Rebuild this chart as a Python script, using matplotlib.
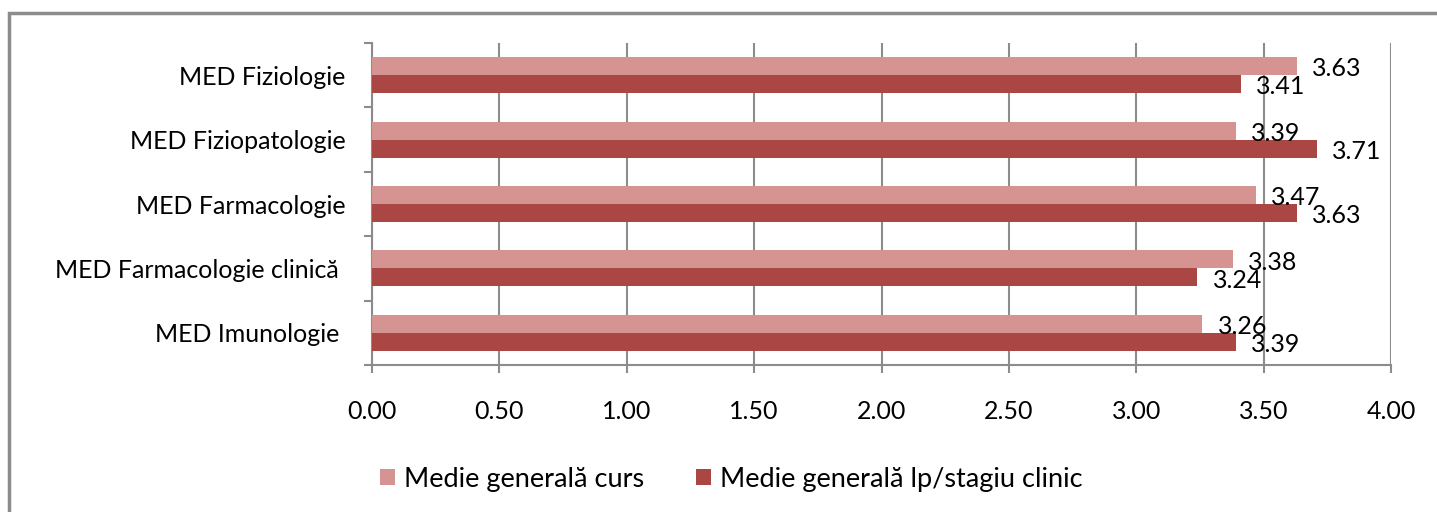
import matplotlib.pyplot as plt
import matplotlib.patches as mpatches
import numpy as np

plt.rcParams['font.family'] = ['Lato', 'DejaVu Sans']

# data
categories = ['MED Fiziologie', 'MED Fiziopatologie', 'MED Farmacologie',
              'MED Farmacologie clinică ', 'MED Imunologie ']
curs = [3.63, 3.39, 3.47, 3.38, 3.26]
lp = [3.41, 3.71, 3.63, 3.24, 3.39]
series_names = ['Medie generală curs', 'Medie generală lp/stagiu clinic']
xticks = [0.0, 0.5, 1.0, 1.5, 2.0, 2.5, 3.0, 3.5, 4.0]

colLight = '#d59392'
colDark = '#aa4643'
gray = '#8c8c8c'
fs = 18

fig = plt.figure(figsize=(14.37, 5.12), dpi=100)
ax = fig.add_axes([372/1437, 1-365/512, (1391-372)/1437, (365-43)/512])

y = np.arange(len(categories))
h = 0.28
b1 = ax.barh(y - h/2, curs, height=h, color=colLight, label=series_names[0], zorder=3)
b2 = ax.barh(y + h/2, lp, height=h, color=colDark, label=series_names[1], zorder=3)

#value labels right of the bar ends
for bars, vals in [(b1, curs), (b2, lp)]:
    for bar, v in zip(bars, vals):
        ax.annotate('%.2f' % v, (v, bar.get_y() + bar.get_height()/2),
                    xytext=(11, -2), textcoords='offset points',
                    ha='left', va='center', fontsize=fs, zorder=4)

ax.set_xlim(0, 4)
ax.set_ylim(len(categories) - 0.5, -0.5)
ax.set_xticks(xticks)
ax.set_xticklabels(['%.2f' % t for t in xticks], fontsize=fs)
ax.set_yticks(y)
ax.set_yticklabels(categories, fontsize=fs)
ax.set_yticks(np.arange(len(categories) + 1) - 0.5, minor=True)

ax.grid(axis='x', color=gray, linewidth=1.5, zorder=0)
ax.tick_params(axis='x', length=6, width=1.5, color=gray, pad=19)
ax.tick_params(axis='y', which='major', length=0, pad=19)
ax.tick_params(axis='y', which='minor', length=6, width=1.5, color=gray)

for s in ['top', 'right']:
    ax.spines[s].set_visible(False)
for s in ['left', 'bottom']:
    ax.spines[s].set_color(gray)
    ax.spines[s].set_linewidth(1.5)

fig.legend(loc='center', bbox_to_anchor=(0.509, 1-479/512), ncol=2, frameon=False,
           fontsize=19.5, handlelength=0.55, handleheight=0.55, handletextpad=0.35,
           columnspacing=1.9)

#outer chart border
fig.patches.append(mpatches.Rectangle((9/1437, -0.2), 1.1, 1-13/512+0.2, transform=fig.transFigure,
                                      fill=False, edgecolor=gray, linewidth=2.5, zorder=10))

fig.savefig('out.png', dpi=100)
